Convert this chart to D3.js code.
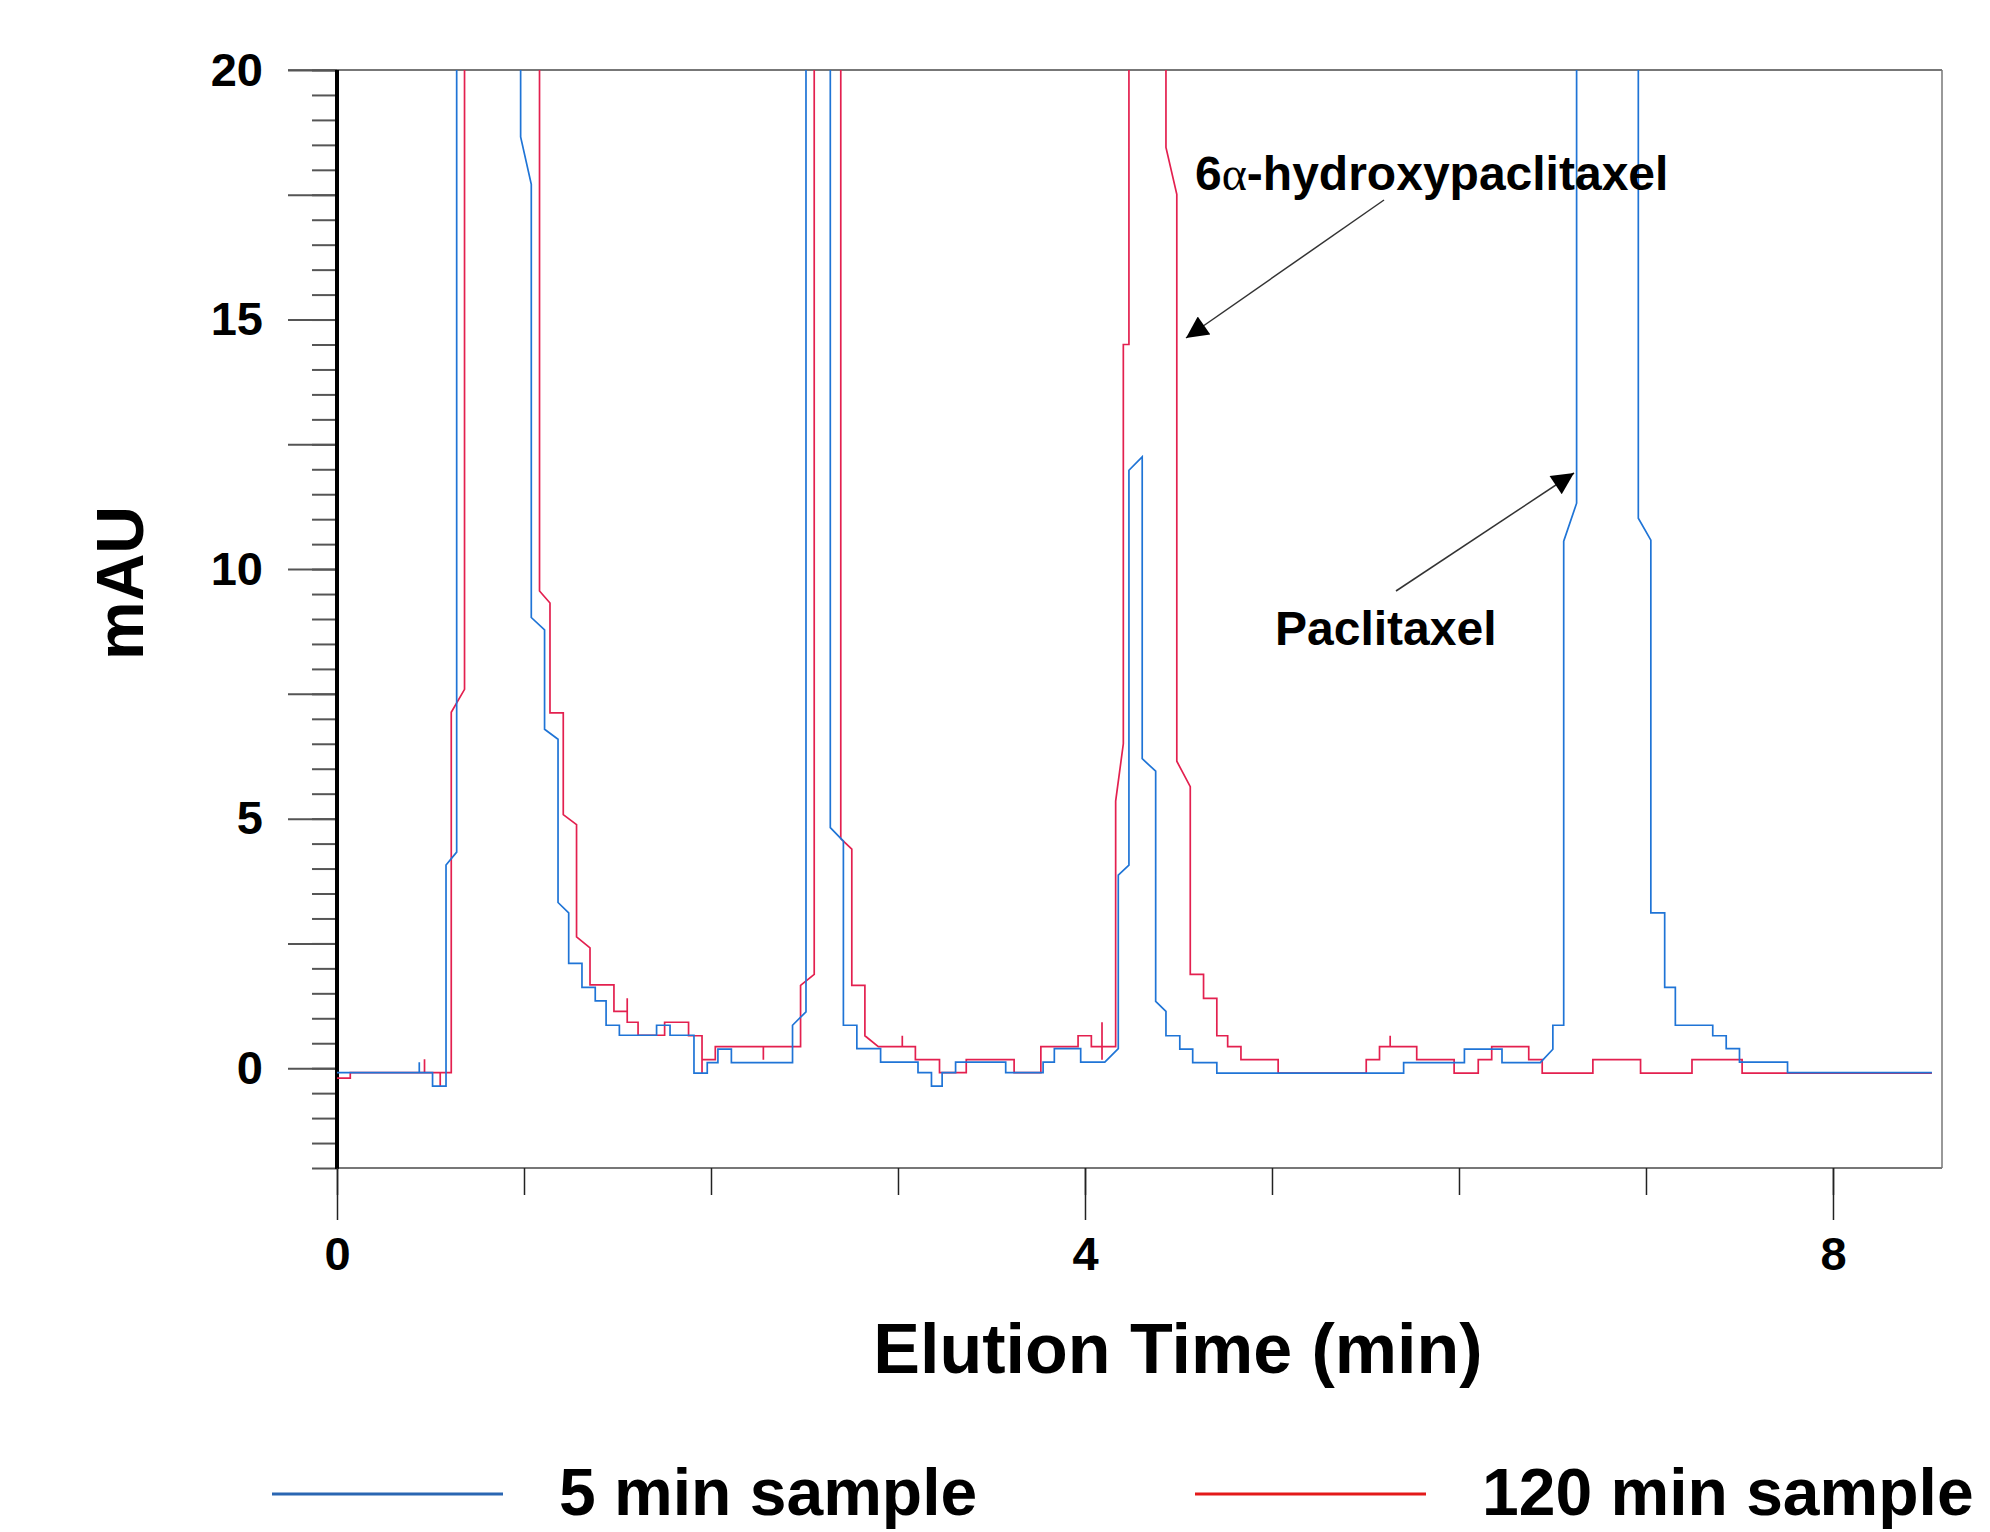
<!DOCTYPE html>
<html>
<head>
<meta charset="utf-8">
<script src="https://cdn.jsdelivr.net/npm/d3@7"></script>
<style>
  body { margin: 0; background: #fff; }
  text { font-family: "Liberation Sans", Arial, sans-serif; font-weight: bold; fill: #000; }
</style>
</head>
<body>
<svg id="chart" width="1990" height="1532"></svg>
<script>
// chromatogram traces, [time (min), mAU]; 40 = off scale, clipped at 20
const sample5 = [
  [0, -0.09], [0.440, -0.09], [0.440, 0.12], [0.440, -0.09],
  [0.511, -0.09], [0.511, -0.36], [0.583, -0.36], [0.583, 4.07],
  [0.640, 4.33], [0.640, 40], [0.982, 40], [0.982, 18.66],
  [1.039, 17.71], [1.039, 9.03], [1.110, 8.78], [1.110, 6.79],
  [1.182, 6.59], [1.182, 3.32], [1.239, 3.11], [1.239, 2.10],
  [1.310, 2.10], [1.310, 1.62], [1.381, 1.62], [1.381, 1.35],
  [1.439, 1.35], [1.439, 0.86], [1.510, 0.86], [1.510, 0.66],
  [1.709, 0.66], [1.709, 0.86], [1.781, 0.86], [1.781, 0.66],
  [1.909, 0.66], [1.909, -0.10], [1.980, -0.10], [1.980, 0.11],
  [2.037, 0.11], [2.037, 0.38], [2.109, 0.38], [2.109, 0.11],
  [2.436, 0.11], [2.436, 0.86], [2.508, 1.13], [2.508, 40],
  [2.638, 40], [2.638, 4.82], [2.708, 4.55], [2.708, 0.86],
  [2.780, 0.86], [2.780, 0.39], [2.907, 0.39], [2.907, 0.12],
  [3.107, 0.12], [3.107, -0.09], [3.179, -0.09], [3.179, -0.36],
  [3.236, -0.36], [3.236, -0.09], [3.308, -0.09], [3.308, 0.12],
  [3.576, 0.12], [3.576, -0.09], [3.776, -0.09], [3.776, 0.12],
  [3.836, 0.12], [3.836, 0.39], [3.977, 0.39], [3.977, 0.12],
  [4.106, 0.12], [4.178, 0.39], [4.178, 3.87], [4.235, 4.07],
  [4.235, 11.98], [4.306, 12.25], [4.306, 6.20], [4.378, 5.95],
  [4.378, 1.34], [4.433, 1.14], [4.433, 0.65], [4.507, 0.65],
  [4.507, 0.38], [4.576, 0.38], [4.576, 0.11], [4.705, 0.11],
  [4.705, -0.10], [5.704, -0.10], [5.704, 0.11], [6.029, 0.11],
  [6.029, 0.38], [6.230, 0.38], [6.230, 0.11], [6.435, 0.11],
  [6.502, 0.38], [6.502, 0.86], [6.560, 0.86], [6.560, 10.56],
  [6.629, 11.32], [6.629, 40], [6.959, 40], [6.959, 11.02],
  [7.026, 10.58], [7.026, 3.11], [7.100, 3.11], [7.100, 1.62],
  [7.157, 1.62], [7.157, 0.86], [7.357, 0.86], [7.357, 0.65],
  [7.429, 0.65], [7.429, 0.39], [7.500, 0.39], [7.500, 0.12],
  [7.757, 0.12], [7.757, -0.09], [8.529, -0.09]
];

const sample120 = [
  [0, -0.20], [0.071, -0.20], [0.071, -0.09],
  [0.468, -0.09], [0.468, 0.18], [0.468, -0.09],
  [0.552, -0.09], [0.552, -0.36], [0.552, -0.09],
  [0.611, -0.09], [0.611, 7.13], [0.682, 7.59], [0.682, 40],
  [1.083, 40], [1.083, 9.56], [1.139, 9.32], [1.139, 7.12],
  [1.210, 7.12], [1.210, 5.08], [1.281, 4.88], [1.281, 2.63],
  [1.353, 2.41], [1.353, 1.67], [1.481, 1.67], [1.481, 1.14],
  [1.552, 1.14], [1.552, 1.40], [1.552, 0.92], [1.610, 0.92],
  [1.610, 0.66], [1.752, 0.66], [1.752, 0.92], [1.880, 0.92],
  [1.880, 0.65], [1.952, 0.65], [1.952, -0.10], [1.952, 0.17],
  [2.023, 0.17], [2.023, 0.43], [2.280, 0.43], [2.280, 0.17],
  [2.280, 0.43], [2.479, 0.43], [2.479, 1.66], [2.552, 1.88],
  [2.552, 40], [2.694, 40], [2.694, 4.60], [2.753, 4.39],
  [2.753, 1.66], [2.823, 1.66], [2.823, 0.65], [2.895, 0.43],
  [3.023, 0.43], [3.023, 0.65], [3.023, 0.43], [3.093, 0.43],
  [3.093, 0.17], [3.222, 0.17], [3.222, -0.09], [3.365, -0.09],
  [3.365, 0.17], [3.621, 0.17], [3.621, -0.09], [3.764, -0.09],
  [3.764, 0.43], [3.963, 0.43], [3.963, 0.65], [4.034, 0.65],
  [4.034, 0.43], [4.091, 0.43], [4.091, 0.92], [4.091, 0.17],
  [4.091, 0.43], [4.164, 0.43], [4.164, 5.35], [4.205, 6.50],
  [4.205, 14.50], [4.235, 14.50], [4.235, 40], [4.433, 40],
  [4.433, 18.45], [4.491, 17.51], [4.491, 6.15], [4.563, 5.64],
  [4.563, 1.88], [4.634, 1.88], [4.634, 1.40], [4.705, 1.40],
  [4.705, 0.65], [4.763, 0.65], [4.763, 0.43], [4.834, 0.43],
  [4.834, 0.17], [5.033, 0.17], [5.033, -0.10], [5.504, -0.10],
  [5.504, 0.17], [5.575, 0.17], [5.575, 0.43], [5.632, 0.43],
  [5.632, 0.65], [5.632, 0.43], [5.774, 0.43], [5.774, 0.17],
  [5.974, 0.17], [5.974, -0.10], [6.103, -0.10], [6.103, 0.17],
  [6.175, 0.17], [6.175, 0.43], [6.373, 0.43], [6.373, 0.17],
  [6.445, 0.17], [6.445, -0.10], [6.716, -0.10], [6.716, 0.17],
  [6.971, 0.17], [6.971, -0.10], [7.246, -0.10], [7.246, 0.17],
  [7.514, 0.17], [7.514, -0.10], [8.529, -0.10]
];

const yLabelTicks = [0, 5, 10, 15, 20];
const yMajorTicks = d3.range(-2.5, 20.01, 2.5).filter(d => d >= -2);
const yMinorTicks = d3.range(-2, 20.01, 0.5);
const xLabelTicks = [0, 4, 8];
const xMinorTicks = [0, 1, 2, 3, 4, 5, 6, 7, 8];

const seriesNames = ["5 min sample", "120 min sample"];
const seriesColours = ["#1f74d6", "#e3204f"];
const legendColours = ["#2a66b2", "#e31a1a"];

const annotations = [
  { label: "6α-hydroxypaclitaxel", x: 1195, y: 190, from: [1384, 200], to: [1186, 338] },
  { label: "Paclitaxel", x: 1275, y: 645, from: [1396, 591], to: [1574, 473] }
];

const margin = { left: 337, right: 1942, top: 70, bottom: 1168 };

const x = d3.scaleLinear().domain([0, 8.583]).range([margin.left, margin.right]);
const y = d3.scaleLinear().domain([-2, 20]).range([margin.bottom, margin.top]);

const svg = d3.select("#chart");
const defs = svg.append("defs");

defs.append("clipPath").attr("id", "plot-clip")
  .append("rect")
    .attr("x", margin.left).attr("y", margin.top)
    .attr("width", margin.right - margin.left)
    .attr("height", margin.bottom - margin.top);

defs.append("marker")
    .attr("id", "arrow")
    .attr("viewBox", "0 0 10 10")
    .attr("refX", 10).attr("refY", 5)
    .attr("markerWidth", 27).attr("markerHeight", 22)
    .attr("markerUnits", "userSpaceOnUse")
    .attr("orient", "auto")
  .append("path")
    .attr("d", "M0,0 L10,5 L0,10 Z")
    .attr("fill", "#000");

// frame
svg.append("line")
    .attr("x1", 288).attr("x2", margin.right)
    .attr("y1", margin.top).attr("y2", margin.top)
    .attr("stroke", "#777").attr("stroke-width", 2);
svg.append("line")
    .attr("x1", margin.right).attr("x2", margin.right)
    .attr("y1", margin.top).attr("y2", margin.bottom)
    .attr("stroke", "#777").attr("stroke-width", 1.5);
svg.append("line")
    .attr("x1", margin.left).attr("x2", margin.right)
    .attr("y1", margin.bottom).attr("y2", margin.bottom)
    .attr("stroke", "#777").attr("stroke-width", 2);

// y axis
svg.append("g")
    .attr("transform", `translate(${margin.left},0)`)
    .call(d3.axisLeft(y).tickValues(yMinorTicks).tickSize(25).tickFormat(""))
    .call(g => g.select(".domain").remove())
    .call(g => g.selectAll("line").attr("stroke", "#555").attr("stroke-width", 2));

svg.append("g")
    .attr("transform", `translate(${margin.left},0)`)
    .call(d3.axisLeft(y).tickValues(yMajorTicks).tickSize(49).tickPadding(25)
      .tickFormat(d => yLabelTicks.includes(d) ? d : ""))
    .call(g => g.select(".domain").remove())
    .call(g => g.selectAll("line").attr("stroke", "#555").attr("stroke-width", 2))
    .call(g => g.selectAll("text")
      .attr("font-size", 47)
      .attr("font-family", "Liberation Sans, Arial, sans-serif")
      .attr("font-weight", "bold")
      .attr("fill", "#000"));

svg.append("line")
    .attr("x1", margin.left).attr("x2", margin.left)
    .attr("y1", margin.top).attr("y2", margin.bottom + 1)
    .attr("stroke", "#000").attr("stroke-width", 4);

// x axis
svg.append("g")
    .attr("transform", `translate(0,${margin.bottom})`)
    .call(d3.axisBottom(x).tickValues(xMinorTicks).tickSize(27).tickFormat(""))
    .call(g => g.select(".domain").remove())
    .call(g => g.selectAll("line").attr("stroke", "#222").attr("stroke-width", 1.5));

svg.append("g")
    .attr("transform", `translate(0,${margin.bottom})`)
    .call(d3.axisBottom(x).tickValues(xLabelTicks).tickSize(52).tickPadding(17))
    .call(g => g.select(".domain").remove())
    .call(g => g.selectAll("line").attr("stroke", "#222").attr("stroke-width", 1.5))
    .call(g => g.selectAll("text")
      .attr("font-size", 47)
      .attr("font-family", "Liberation Sans, Arial, sans-serif")
      .attr("font-weight", "bold")
      .attr("fill", "#000"));

// traces
const line = d3.line()
    .x(d => x(d[0]))
    .y(d => y(d[1]));

svg.append("g")
    .attr("clip-path", "url(#plot-clip)")
    .attr("fill", "none")
    .attr("stroke-width", 1.7)
  .selectAll("path")
  .data([sample120, sample5])
  .join("path")
    .attr("stroke", (d, i) => seriesColours[1 - i])
    .attr("d", line);

// axis titles
svg.append("text")
    .attr("transform", "translate(143,583) rotate(-90)")
    .attr("text-anchor", "middle")
    .attr("font-size", 66)
    .text("mAU");

svg.append("text")
    .attr("x", 1178).attr("y", 1373)
    .attr("text-anchor", "middle")
    .attr("font-size", 70)
    .text("Elution Time (min)");

// annotations
annotations.forEach(a => {
  const t = svg.append("text")
      .attr("x", a.x).attr("y", a.y)
      .attr("font-size", 48);
  if (a.label.includes("α")) {
    const [pre, post] = a.label.split("α");
    t.append("tspan").text(pre);
    t.append("tspan")
        .style("font-family", "Liberation Serif, serif")
        .style("font-weight", "normal")
        .text("α");
    t.append("tspan").text(post);
  } else {
    t.text(a.label);
  }
  svg.append("line")
      .attr("x1", a.from[0]).attr("y1", a.from[1])
      .attr("x2", a.to[0]).attr("y2", a.to[1])
      .attr("stroke", "#333").attr("stroke-width", 1.5)
      .attr("marker-end", "url(#arrow)");
});

// legend
const legendX = [272, 1195];
const legend = svg.append("g")
  .selectAll("g")
  .data(seriesNames)
  .join("g")
    .attr("transform", (d, i) => `translate(${legendX[i]},1494)`);

legend.append("line")
    .attr("x1", 0).attr("x2", 231)
    .attr("stroke", (d, i) => legendColours[i])
    .attr("stroke-width", 3);

legend.append("text")
    .attr("x", 287).attr("y", 21)
    .attr("font-size", 66)
    .text(d => d);
</script>
</body>
</html>
